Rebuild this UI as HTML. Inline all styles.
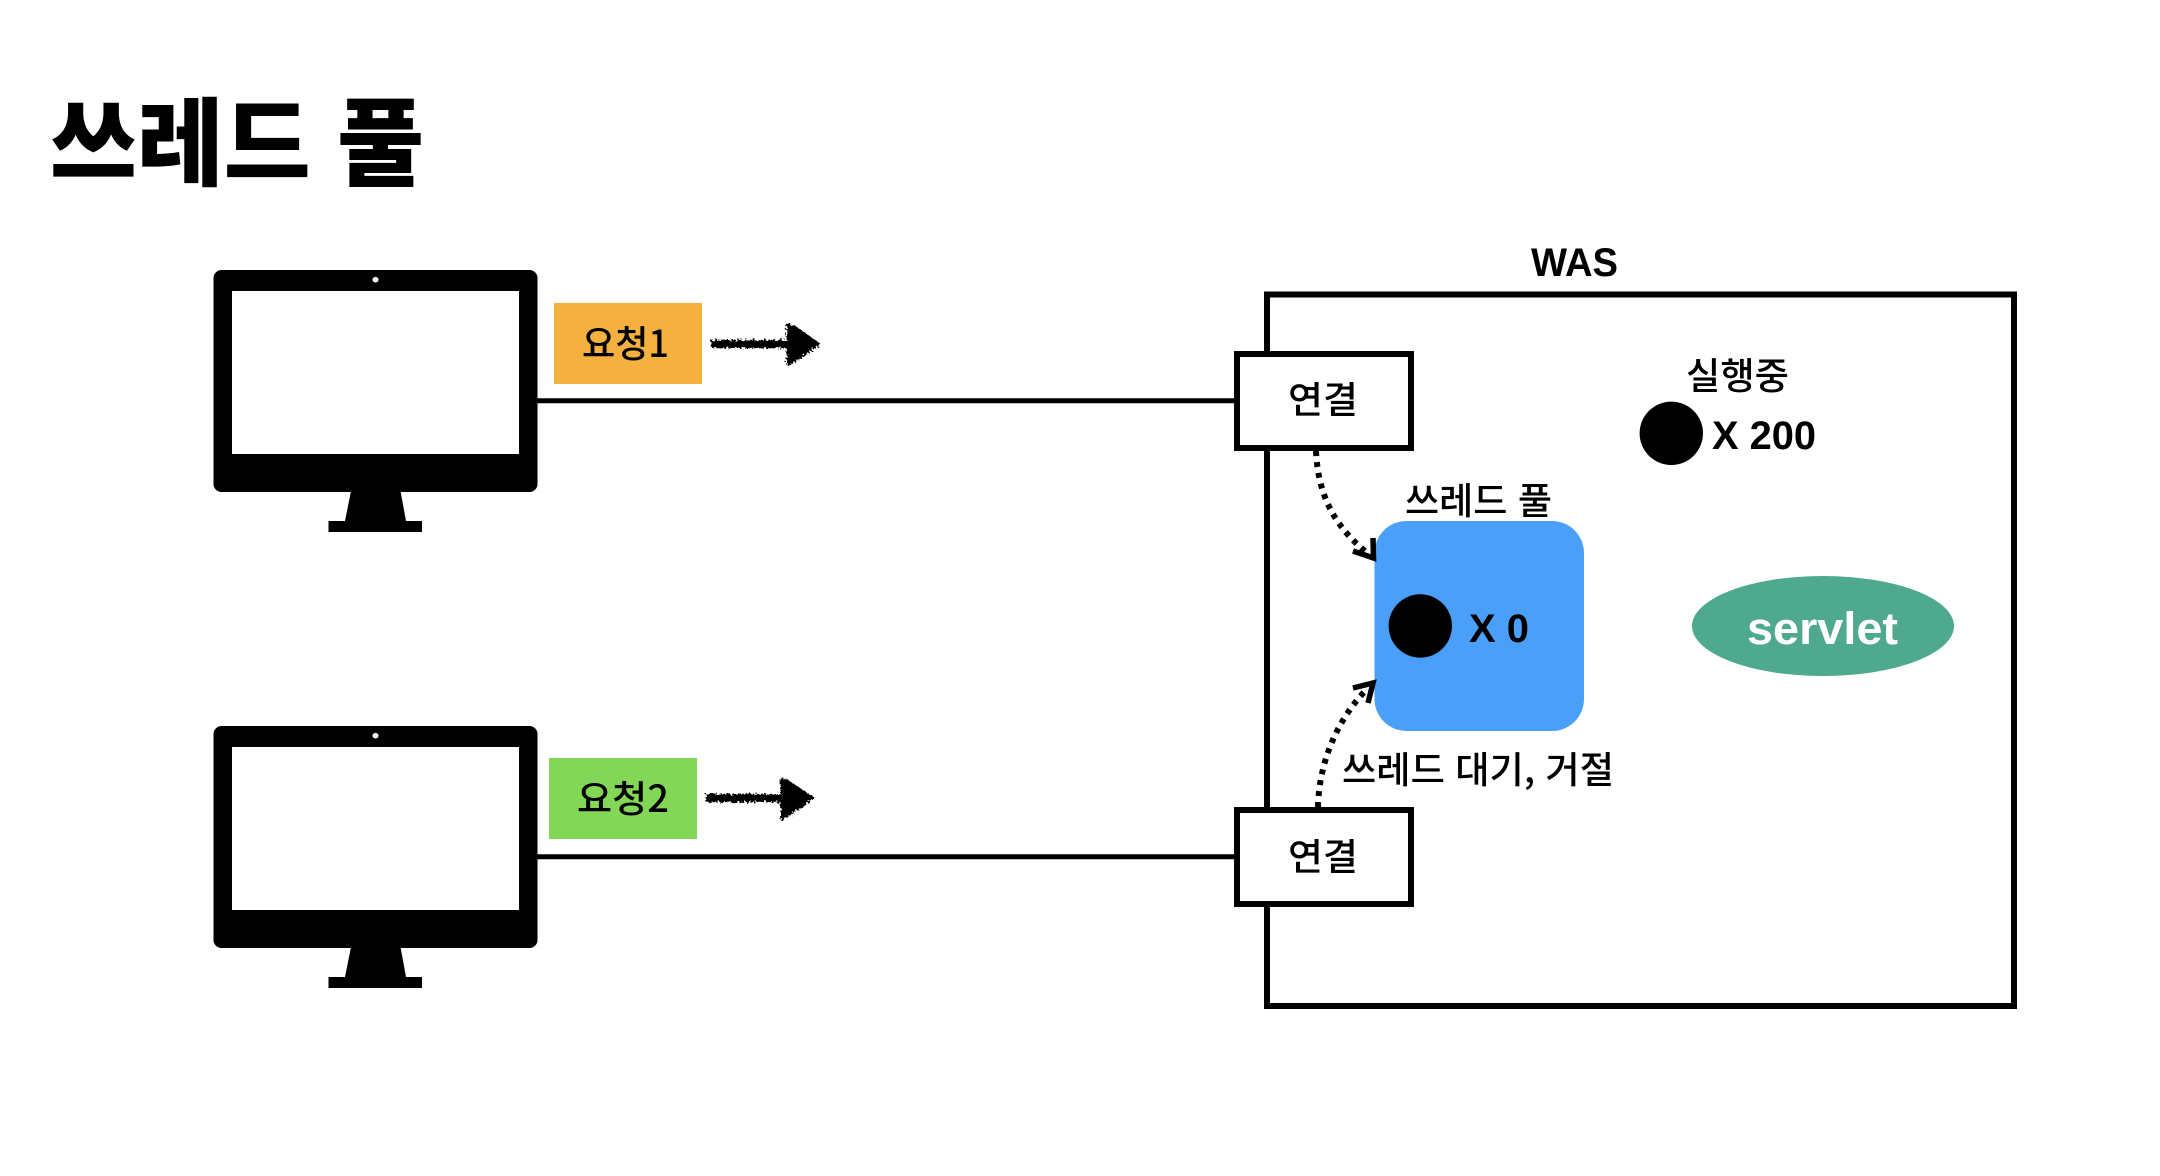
<!DOCTYPE html>
<html lang="ko"><head><meta charset="utf-8"><title>쓰레드 풀</title>
<style>
html,body{margin:0;padding:0;background:#fff;width:2160px;height:1176px;overflow:hidden}
svg{display:block}
text{font-family:"Liberation Sans","Noto Sans CJK KR",sans-serif;fill:#000}
.k{font-family:"Noto Sans CJK KR","NanumGothic",sans-serif;font-weight:500}
.b{font-family:"Liberation Sans",sans-serif;font-weight:700}
</style></head><body>
<svg width="2160" height="1176" viewBox="0 0 2160 1176" xmlns="http://www.w3.org/2000/svg">
<defs>
<filter id="rough" x="-10%" y="-30%" width="120%" height="160%"><feTurbulence type="fractalNoise" baseFrequency="0.45" numOctaves="2" seed="4"/><feDisplacementMap in="SourceGraphic" scale="7"/></filter>
<g id="mon">
<rect x="213.5" y="270" width="324" height="222" rx="8" fill="#000"/>
<rect x="232" y="291" width="287" height="163" fill="#fff"/>
<ellipse cx="375.5" cy="279.7" rx="3" ry="2.8" fill="#fff"/>
<path d="M351 491L400.500 491L406 521L422 521L422 532L328.500 532L328.500 521L345 521Z" fill="#000"/>
</g>
</defs>
<rect width="2160" height="1176" fill="#fff"/>

<text class="k" x="50" y="178" font-size="96" style="font-weight:900" textLength="374" lengthAdjust="spacingAndGlyphs">쓰레드 풀</text>

<use href="#mon"/>
<use href="#mon" y="456"/>

<line x1="537" y1="400.700" x2="1236" y2="400.700" stroke="#000" stroke-width="5"/>
<line x1="537" y1="856.700" x2="1236" y2="856.700" stroke="#000" stroke-width="5"/>

<rect x="1267" y="294.500" width="747" height="711.500" fill="#fff" stroke="#000" stroke-width="6"/>

<rect x="1374.500" y="521" width="209.500" height="210" rx="32" fill="#4a9ff9"/>

<rect x="1237" y="354" width="174" height="94" fill="#fff" stroke="#000" stroke-width="6"/>
<rect x="1237" y="810" width="174" height="94" fill="#fff" stroke="#000" stroke-width="6"/>

<rect x="554" y="303" width="148" height="81" fill="#f4b13f"/>
<rect x="549" y="758" width="148" height="81" fill="#83d756"/>

<g filter="url(#rough)">
<path d="M711 340L787 340L786 323L794 325L821 344L792 364L786 365L787 348L711 348Z" fill="#000"/>
<path d="M706 794L781 794L780 778L788 780L815 798L786 818L780 820L781 802L706 802Z" fill="#000"/>
</g>

<path d="M1316 451C1318 490 1330 522 1366 552" fill="none" stroke="#000" stroke-width="6" stroke-dasharray="5 6"/>
<path d="M1353 551L1373.500 558L1373 538" fill="none" stroke="#000" stroke-width="5.500"/>
<path d="M1318 807C1319 765 1335 722 1367 689" fill="none" stroke="#000" stroke-width="6" stroke-dasharray="5 6"/>
<path d="M1353 688L1373 683L1368 703" fill="none" stroke="#000" stroke-width="5.500"/>

<circle cx="1671.300" cy="433.300" r="31.700" fill="#000"/>
<circle cx="1420.300" cy="626" r="31.700" fill="#000"/>
<ellipse cx="1823" cy="626" rx="131" ry="50" fill="#4ea98f"/>

<text class="b" x="1531" y="276" font-size="40" textLength="87" lengthAdjust="spacingAndGlyphs">WAS</text>
<text class="b" x="1712" y="449" font-size="40" textLength="104" lengthAdjust="spacingAndGlyphs">X 200</text>
<text class="b" x="1469" y="642" font-size="40" textLength="60" lengthAdjust="spacingAndGlyphs">X 0</text>
<text class="b" x="1747" y="644" font-size="45" textLength="151" lengthAdjust="spacingAndGlyphs" style="fill:#fff">servlet</text>

<text class="k" x="1686" y="389" font-size="37" textLength="103" lengthAdjust="spacingAndGlyphs">실행중</text>
<text class="k" x="1405" y="514" font-size="37" textLength="147" lengthAdjust="spacingAndGlyphs">쓰레드 풀</text>
<text class="k" x="1288" y="413" font-size="37" textLength="70" lengthAdjust="spacingAndGlyphs">연결</text>
<text class="k" x="1288" y="870" font-size="37" textLength="70" lengthAdjust="spacingAndGlyphs">연결</text>
<text class="k" x="1342" y="783" font-size="37" textLength="272" lengthAdjust="spacingAndGlyphs">쓰레드 대기, 거절</text>
<text class="k" x="582" y="357" font-size="37" textLength="87" lengthAdjust="spacingAndGlyphs">요청1</text>
<text class="k" x="577" y="812" font-size="37" textLength="92" lengthAdjust="spacingAndGlyphs">요청2</text>
</svg>
</body></html>
